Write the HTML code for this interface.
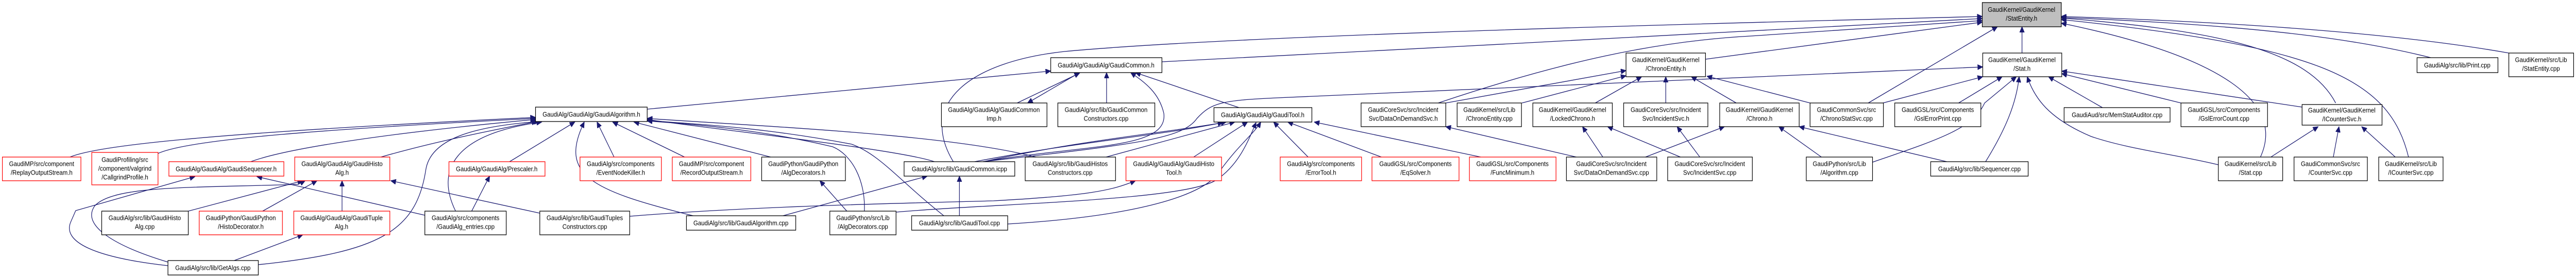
<!DOCTYPE html>
<html><head><meta charset="utf-8"><style>
html,body{margin:0;padding:0;background:#fff;overflow:hidden;width:100%;height:100%;}
svg{display:block;position:absolute;left:0;top:0;width:100vw;height:100vh;}
text{font-family:"Liberation Sans",Arial,sans-serif;font-size:12.5px;fill:#000;text-anchor:middle;}
.e{fill:none;stroke:#191970;stroke-width:1.3;}
.n{fill:#fff;stroke:#000;stroke-width:1.3;}
.r{fill:#fff;stroke:#ff0000;stroke-width:1.3;}
.g{fill:#bfbfbf;stroke:#000;stroke-width:1.3;}
</style></head><body>
<svg viewBox="0 0 5445 536" preserveAspectRatio="none" xmlns="http://www.w3.org/2000/svg">
<defs><marker id="a" markerUnits="userSpaceOnUse" markerWidth="12" markerHeight="10" refX="11" refY="5" orient="auto"><path d="M0,0 L11,5 L0,10 z" fill="#191970" stroke="#191970"/></marker></defs>
<g marker-end="url(#a)" class="e">
<path d="M148,305 C200,285 400,260 1132,228"/>
<path d="M334,298 C400,270 700,250 1132,230"/>
<path d="M530,314 C600,290 800,260 1132,232"/>
<path d="M805,305 C900,280 1000,260 1135,236"/>
<path d="M546,514 C800,490 880,450 900,330 C910,270 1000,245 1140,236"/>
<path d="M963,410 C920,330 960,260 1145,237"/>
<path d="M1077,314 L1215,237"/>
<path d="M1298,305 L1262,237"/>
<path d="M1447,305 L1295,237"/>
<path d="M1629,305 L1340,237"/>
<path d="M1465,419 C1250,370 1180,340 1235,237"/>
<path d="M2190,305 C2000,260 1600,245 1368,230"/>
<path d="M1975,314 C1900,290 1500,250 1368,232"/>
<path d="M1995,419 C1900,350 1860,300 1800,280 C1600,245 1450,240 1368,234"/>
<path d="M1827,410 C1830,350 1800,300 1760,285 C1600,250 1450,240 1368,235"/>
<path d="M1368,212 L2221,138"/>
<path d="M2150,200 L2282,142"/>
<path d="M2280,142 L2172,200"/>
<path d="M2339,200 L2339,141"/>
<path d="M2078,314 C2300,280 2470,290 2460,220 C2450,180 2420,160 2390,141"/>
<path d="M2619,209 L2400,141"/>
<path d="M2015,314 C1940,200 2050,120 2250,100 C2600,70 3500,48 4190,32"/>
<path d="M2456,120 C3000,95 3800,55 4190,36"/>
<path d="M3040,200 C3300,120 3500,80 3700,70 L4190,40"/>
<path d="M3605,115 L4190,43"/>
<path d="M3949,200 L4222,52"/>
<path d="M4274,103 L4274,52"/>
<path d="M4937,200 C4880,100 4700,60 4357,35"/>
<path d="M5091,305 C5050,150 4900,90 4357,38"/>
<path d="M4778,305 C4830,200 4700,110 4357,45"/>
<path d="M5138,112 C5000,80 4800,50 4357,34"/>
<path d="M5303,103 C5100,70 4800,45 4357,32"/>
<path d="M2078,314 C2400,280 2500,270 2530,230 C2560,200 2580,195 2700,190 L4191,130"/>
<path d="M3980,200 L4191,149"/>
<path d="M4140,200 L4232,149"/>
<path d="M3958,315 C4100,270 4170,250 4195,200 L4262,149"/>
<path d="M4197,314 C4240,250 4262,200 4268,149"/>
<path d="M4689,320 C4600,300 4500,290 4420,265 C4330,230 4300,190 4285,149"/>
<path d="M4444,209 L4330,149"/>
<path d="M4610,200 L4358,143"/>
<path d="M4866,208 L4358,138"/>
<path d="M3056,200 L3437,137"/>
<path d="M3217,200 L3437,147"/>
<path d="M3372,200 L3470,149"/>
<path d="M3521,200 L3521,149"/>
<path d="M3670,200 L3575,149"/>
<path d="M3826,200 L3608,148"/>
<path d="M3388,305 L3345,246"/>
<path d="M3552,305 L3398,246"/>
<path d="M3593,305 L3545,246"/>
<path d="M3332,305 L3056,246"/>
<path d="M3478,305 L3645,246"/>
<path d="M3850,305 L3760,246"/>
<path d="M4115,314 L3803,246"/>
<path d="M4800,305 L4900,246"/>
<path d="M4932,305 L4944,246"/>
<path d="M5063,305 L4992,246"/>
<path d="M2078,314 C2300,270 2450,260 2592,237"/>
<path d="M2060,314 C2280,275 2440,265 2585,238"/>
<path d="M2338,305 L2610,237"/>
<path d="M2523,305 L2637,237"/>
<path d="M2130,435 C2400,420 2550,380 2580,330 C2620,280 2650,260 2665,237"/>
<path d="M1894,412 C2100,395 2500,390 2570,350 C2620,320 2640,270 2655,238"/>
<path d="M2765,305 L2692,237"/>
<path d="M2920,305 L2722,237"/>
<path d="M3130,305 L2778,237"/>
<path d="M2028,419 L2028,342"/>
<path d="M1655,419 L1960,342"/>
<path d="M1331,420 C1600,400 1900,395 2100,390 C2300,380 2350,370 2400,351"/>
<path d="M398,410 L640,351"/>
<path d="M555,410 L670,351"/>
<path d="M723,410 L723,351"/>
<path d="M355,509 C250,480 170,440 200,400 C240,360 400,365 630,358 L645,351"/>
<path d="M1141,414 L826,351"/>
<path d="M355,516 C200,500 130,470 150,430 L160,409 L412,343"/>
<path d="M898,418 L543,343"/>
<path d="M495,506 L640,456"/>
<path d="M997,410 L1035,342"/>
<path d="M1790,410 L1733,351"/>
</g>
<rect class="r" x="5" y="305" width="166" height="46"/><text x="88" y="322.5">GaudiMP/src/component</text><text x="88" y="339.5">/ReplayOutputStream.h</text>
<rect class="r" x="194" y="296" width="140" height="63"/><text x="264" y="314.5">GaudiProfiling/src</text><text x="264" y="331.5">/component/valgrind</text><text x="264" y="348.5">/CallgrindProfile.h</text>
<rect class="r" x="357" y="314" width="243" height="28"/><text x="478" y="332.5">GaudiAlg/GaudiAlg/GaudiSequencer.h</text>
<rect class="r" x="623" y="305" width="201" height="46"/><text x="723" y="322.5">GaudiAlg/GaudiAlg/GaudiHisto</text><text x="723" y="339.5">Alg.h</text>
<rect class="n" x="215" y="410" width="183" height="46"/><text x="306" y="427.5">GaudiAlg/src/lib/GaudiHisto</text><text x="306" y="444.5">Alg.cpp</text>
<rect class="r" x="421" y="410" width="176" height="46"/><text x="509" y="427.5">GaudiPython/GaudiPython</text><text x="509" y="444.5">/HistoDecorator.h</text>
<rect class="r" x="621" y="410" width="203" height="46"/><text x="722" y="427.5">GaudiAlg/GaudiAlg/GaudiTuple</text><text x="722" y="444.5">Alg.h</text>
<rect class="n" x="355" y="506" width="191" height="28"/><text x="450" y="524.5">GaudiAlg/src/lib/GetAlgs.cpp</text>
<rect class="n" x="898" y="410" width="172" height="46"/><text x="984" y="427.5">GaudiAlg/src/components</text><text x="984" y="444.5">/GaudiAlg_entries.cpp</text>
<rect class="n" x="1132" y="208" width="236" height="28"/><text x="1250" y="226.5">GaudiAlg/GaudiAlg/GaudiAlgorithm.h</text>
<rect class="r" x="949" y="314" width="203" height="28"/><text x="1050" y="332.5">GaudiAlg/GaudiAlg/Prescaler.h</text>
<rect class="r" x="1226" y="305" width="172" height="46"/><text x="1312" y="322.5">GaudiAlg/src/components</text><text x="1312" y="339.5">/EventNodeKiller.h</text>
<rect class="r" x="1421" y="305" width="166" height="46"/><text x="1504" y="322.5">GaudiMP/src/component</text><text x="1504" y="339.5">/RecordOutputStream.h</text>
<rect class="n" x="1610" y="305" width="177" height="46"/><text x="1698" y="322.5">GaudiPython/GaudiPython</text><text x="1698" y="339.5">/AlgDecorators.h</text>
<rect class="n" x="1141" y="410" width="190" height="46"/><text x="1236" y="427.5">GaudiAlg/src/lib/GaudiTuples</text><text x="1236" y="444.5">Constructors.cpp</text>
<rect class="n" x="1451" y="419" width="231" height="28"/><text x="1566" y="437.5">GaudiAlg/src/lib/GaudiAlgorithm.cpp</text>
<rect class="n" x="1754" y="410" width="140" height="46"/><text x="1824" y="427.5">GaudiPython/src/Lib</text><text x="1824" y="444.5">/AlgDecorators.cpp</text>
<rect class="n" x="2221" y="112" width="235" height="29"/><text x="2338" y="131">GaudiAlg/GaudiAlg/GaudiCommon.h</text>
<rect class="n" x="1990" y="200" width="223" height="46"/><text x="2101" y="217.5">GaudiAlg/GaudiAlg/GaudiCommon</text><text x="2101" y="234.5">Imp.h</text>
<rect class="n" x="2236" y="200" width="205" height="46"/><text x="2338" y="217.5">GaudiAlg/src/lib/GaudiCommon</text><text x="2338" y="234.5">Constructors.cpp</text>
<rect class="n" x="2566" y="209" width="207" height="28"/><text x="2669" y="227.5">GaudiAlg/GaudiAlg/GaudiTool.h</text>
<rect class="n" x="1911" y="314" width="234" height="28"/><text x="2028" y="332.5">GaudiAlg/src/lib/GaudiCommon.icpp</text>
<rect class="n" x="2167" y="305" width="191" height="46"/><text x="2262" y="322.5">GaudiAlg/src/lib/GaudiHistos</text><text x="2262" y="339.5">Constructors.cpp</text>
<rect class="r" x="2380" y="305" width="202" height="46"/><text x="2481" y="322.5">GaudiAlg/GaudiAlg/GaudiHisto</text><text x="2481" y="339.5">Tool.h</text>
<rect class="r" x="2706" y="305" width="172" height="46"/><text x="2792" y="322.5">GaudiAlg/src/components</text><text x="2792" y="339.5">/ErrorTool.h</text>
<rect class="n" x="1927" y="419" width="203" height="28"/><text x="2028" y="437.5">GaudiAlg/src/lib/GaudiTool.cpp</text>
<rect class="r" x="2900" y="305" width="184" height="46"/><text x="2992" y="322.5">GaudiGSL/src/Components</text><text x="2992" y="339.5">/EqSolver.h</text>
<rect class="r" x="3106" y="305" width="183" height="46"/><text x="3197" y="322.5">GaudiGSL/src/Components</text><text x="3197" y="339.5">/FuncMinimum.h</text>
<rect class="n" x="3311" y="305" width="191" height="46"/><text x="3406" y="322.5">GaudiCoreSvc/src/Incident</text><text x="3406" y="339.5">Svc/DataOnDemandSvc.cpp</text>
<rect class="n" x="3525" y="305" width="179" height="46"/><text x="3614" y="322.5">GaudiCoreSvc/src/Incident</text><text x="3614" y="339.5">Svc/IncidentSvc.cpp</text>
<rect class="n" x="2877" y="200" width="179" height="46"/><text x="2966" y="217.5">GaudiCoreSvc/src/Incident</text><text x="2966" y="234.5">Svc/DataOnDemandSvc.h</text>
<rect class="n" x="3080" y="200" width="136" height="46"/><text x="3148" y="217.5">GaudiKernel/src/Lib</text><text x="3148" y="234.5">/ChronoEntity.cpp</text>
<rect class="n" x="3240" y="200" width="168" height="46"/><text x="3324" y="217.5">GaudiKernel/GaudiKernel</text><text x="3324" y="234.5">/LockedChrono.h</text>
<rect class="n" x="3432" y="200" width="178" height="46"/><text x="3521" y="217.5">GaudiCoreSvc/src/Incident</text><text x="3521" y="234.5">Svc/IncidentSvc.h</text>
<rect class="n" x="3437" y="103" width="168" height="46"/><text x="3521" y="120.5">GaudiKernel/GaudiKernel</text><text x="3521" y="137.5">/ChronoEntity.h</text>
<rect class="g" x="4190" y="5" width="167" height="47"/><text x="4273" y="23">GaudiKernel/GaudiKernel</text><text x="4273" y="40">/StatEntity.h</text>
<rect class="n" x="4191" y="103" width="167" height="46"/><text x="4274" y="120.5">GaudiKernel/GaudiKernel</text><text x="4274" y="137.5">/Stat.h</text>
<rect class="n" x="3635" y="200" width="168" height="46"/><text x="3719" y="217.5">GaudiKernel/GaudiKernel</text><text x="3719" y="234.5">/Chrono.h</text>
<rect class="n" x="3826" y="200" width="155" height="46"/><text x="3903" y="217.5">GaudiCommonSvc/src</text><text x="3903" y="234.5">/ChronoStatSvc.cpp</text>
<rect class="n" x="4005" y="200" width="182" height="46"/><text x="4096" y="217.5">GaudiGSL/src/Components</text><text x="4096" y="234.5">/GslErrorPrint.cpp</text>
<rect class="n" x="4363" y="209" width="224" height="28"/><text x="4475" y="227.5">GaudiAud/src/MemStatAuditor.cpp</text>
<rect class="n" x="3818" y="305" width="140" height="46"/><text x="3888" y="322.5">GaudiPython/src/Lib</text><text x="3888" y="339.5">/Algorithm.cpp</text>
<rect class="n" x="4081" y="314" width="206" height="28"/><text x="4184" y="332.5">GaudiAlg/src/lib/Sequencer.cpp</text>
<rect class="n" x="4610" y="200" width="183" height="46"/><text x="4701" y="217.5">GaudiGSL/src/Components</text><text x="4701" y="234.5">/GslErrorCount.cpp</text>
<rect class="n" x="4866" y="203" width="169" height="40"/><text x="4950" y="218.5">GaudiKernel/GaudiKernel</text><text x="4950" y="235.5">/ICounterSvc.h</text>
<rect class="n" x="5109" y="112" width="171" height="29"/><text x="5194" y="131">GaudiAlg/src/lib/Print.cpp</text>
<rect class="n" x="5303" y="103" width="137" height="46"/><text x="5371" y="120.5">GaudiKernel/src/Lib</text><text x="5371" y="137.5">/StatEntity.cpp</text>
<rect class="n" x="4689" y="305" width="136" height="46"/><text x="4757" y="322.5">GaudiKernel/src/Lib</text><text x="4757" y="339.5">/Stat.cpp</text>
<rect class="n" x="4849" y="305" width="155" height="46"/><text x="4926" y="322.5">GaudiCommonSvc/src</text><text x="4926" y="339.5">/CounterSvc.cpp</text>
<rect class="n" x="5028" y="305" width="136" height="46"/><text x="5096" y="322.5">GaudiKernel/src/Lib</text><text x="5096" y="339.5">/ICounterSvc.cpp</text>
</svg>
</body></html>
